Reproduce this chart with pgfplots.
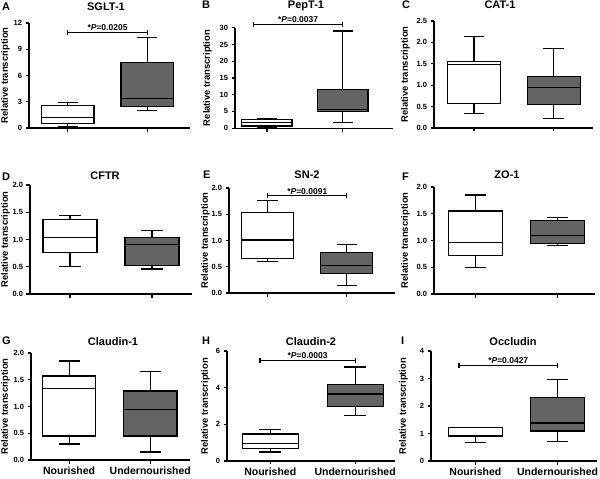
\documentclass[border=0pt]{standalone}
\usepackage{fontspec}
\setmainfont{Liberation Sans}
\usepackage{pgfplots}
\pgfplotsset{compat=1.18}
\usepgfplotslibrary{statistics}
\definecolor{boxgray}{RGB}{100,100,100}
\pgfplotsset{
 panel/.style={scale only axis, anchor=north west,
   axis x line*=bottom, axis y line*=left,
   axis line style={line width=1.2pt},
   every tick/.style={black, line width=1.2pt},
   tick align=outside, major tick length=3.5pt,
   xtick={0,1}, xticklabels={}, ymin=0, clip=false,
   scaled y ticks=false,
   boxplot/draw direction=y,
   ticklabel style={font=\bfseries\fontsize{7.5}{8}\selectfont},
   ylabel={Relative transcription},
   ylabel style={font=\bfseries\fontsize{9.4}{10}\selectfont, anchor=south, inner sep=0pt},
   /pgf/number format/assume math mode=true},
 dec/.style={y tick label style={/pgf/number format/.cd, fixed, fixed zerofill, precision=1, /tikz/.cd}},
 bottomrow/.style={xticklabels={Nourished,Undernourished},
   xticklabel style={font=\bfseries\fontsize{10.5}{12}\selectfont}},
 nour/.style={draw=black, fill=white, line width=1.2pt, solid},
 under/.style={draw=black, fill=boxgray, line width=1.2pt, solid},
}
\newcommand{\bx}[7]{\addplot[#1, boxplot prepared={draw position=#2, lower whisker=#3, lower quartile=#4, median=#5, upper quartile=#6, upper whisker=#7, box extend=0.66, whisker extend=0.26}] coordinates {};}
\newcommand{\sig}[4]{%
 \draw[line width=1.2pt] (axis cs:#1,#3) -- (axis cs:#2,#3);
 \draw[line width=1.2pt] ([yshift=-2.5pt]axis cs:#1,#3) -- ([yshift=2.5pt]axis cs:#1,#3);
 \draw[line width=1.2pt] ([yshift=-2.5pt]axis cs:#2,#3) -- ([yshift=2.5pt]axis cs:#2,#3);
 \node[above, inner sep=1.5pt, font=\bfseries\fontsize{8.5}{9}\selectfont] at (axis cs:{(#1+#2)/2},#3) {*\textit{P}=#4};}
\begin{document}
\begin{tikzpicture}
\path[use as bounding box] (0,0) rectangle (600pt,-479pt);
% Row 1
\begin{axis}[panel, ylabel style={at={(axis description cs:-0.118,0.5)}}, at={(29pt,-23pt)}, width=161pt, height=105pt, ymax=12, ytick={0,3,6,9,12}, xmin=-0.49, xmax=1.54]
\bx{nour}{0}{0.15}{0.5}{1.2}{2.6}{2.9}
\bx{under}{1}{2.0}{2.5}{3.4}{7.5}{10.3}
\sig{0}{1}{10.9}{0.0205}
\end{axis}
\begin{axis}[panel, ylabel style={at={(axis description cs:-0.146,0.5)}}, at={(235pt,-27.7pt)}, width=158pt, height=100.5pt, ymax=30, ytick={0,5,...,30}, xmin=-0.42, xmax=1.66]
\bx{nour}{0}{0.2}{0.65}{1.6}{2.5}{3.0}
\bx{under}{1}{1.6}{5.0}{5.7}{11.5}{29}
\sig{-0.18}{1}{31}{0.0037}
\end{axis}
\begin{axis}[panel, dec, ylabel style={at={(axis description cs:-0.151,0.5)}}, at={(434pt,-21pt)}, width=159pt, height=107pt, ymax=2.5, ytick={0,0.5,...,2.5}, xmin=-0.5, xmax=1.49]
\bx{nour}{0}{0.33}{0.57}{1.48}{1.56}{2.13}
\bx{under}{1}{0.23}{0.55}{0.95}{1.2}{1.85}
\end{axis}
% Row 2
\begin{axis}[panel, dec, ylabel style={at={(axis description cs:-0.123,0.5)}}, at={(30pt,-185pt)}, width=162pt, height=109pt, ymax=2, ytick={0,0.5,...,2}, xmin=-0.49, xmax=1.49]
\bx{nour}{0}{0.51}{0.76}{1.04}{1.37}{1.44}
\bx{under}{1}{0.46}{0.52}{0.91}{1.04}{1.16}
\end{axis}
\begin{axis}[panel, dec, ylabel style={at={(axis description cs:-0.114,0.5)}}, at={(229pt,-188pt)}, width=166pt, height=105pt, ymax=2, ytick={0,0.5,...,2}, xmin=-0.49, xmax=1.61]
\bx{nour}{0}{0.6}{0.65}{1.01}{1.54}{1.76}
\bx{under}{1}{0.14}{0.37}{0.52}{0.77}{0.93}
\sig{0}{1}{1.85}{0.0091}
\end{axis}
\begin{axis}[panel, dec, ylabel style={at={(axis description cs:-0.149,0.5)}}, at={(434pt,-187pt)}, width=161pt, height=107pt, ymax=2, ytick={0,0.5,...,2}, xmin=-0.51, xmax=1.46]
\bx{nour}{0}{0.5}{0.72}{0.96}{1.55}{1.85}
\bx{under}{1}{0.9}{0.94}{1.1}{1.38}{1.43}
\end{axis}
% Row 3
\begin{axis}[panel, dec, bottomrow, ylabel style={at={(axis description cs:-0.132,0.5)}}, at={(31pt,-353pt)}, width=159pt, height=107pt, ymax=2, ytick={0,0.5,...,2}, xmin=-0.47, xmax=1.49]
\bx{nour}{0}{0.3}{0.45}{1.34}{1.57}{1.85}
\bx{under}{1}{0.15}{0.45}{0.95}{1.29}{1.65}
\end{axis}
\begin{axis}[panel, bottomrow, ylabel style={at={(axis description cs:-0.101,0.5)}}, at={(227pt,-351pt)}, width=168pt, height=110pt, ymax=6, ytick={0,2,4,6}, xmin=-0.51, xmax=1.47]
\bx{nour}{0}{0.49}{0.67}{0.95}{1.47}{1.71}
\bx{under}{1}{2.47}{2.96}{3.65}{4.18}{5.13}
\sig{-0.12}{1}{5.5}{0.0003}
\end{axis}
\begin{axis}[panel, bottomrow, ylabel style={at={(axis description cs:-0.139,0.5)}}, at={(431pt,-351pt)}, width=166pt, height=110pt, ymax=4, ytick={0,1,2,3,4}, xmin=-0.54, xmax=1.48]
\bx{nour}{0}{0.68}{0.9}{0.93}{1.22}{1.22}
\bx{under}{1}{0.72}{1.09}{1.38}{2.32}{2.96}
\sig{-0.2}{1}{3.47}{0.0427}
\end{axis}
% Titles
\begin{scope}[every node/.style={anchor=base, font=\bfseries\fontsize{11}{12}\selectfont, inner sep=0pt}]
\node at (106pt,-10pt) {SGLT-1};
\node at (306pt,-9pt) {PepT-1};
\node at (500pt,-9pt) {CAT-1};
\node at (105pt,-179pt) {CFTR};
\node at (307pt,-178pt) {SN-2};
\node at (507pt,-178pt) {ZO-1};
\node at (113pt,-345pt) {Claudin-1};
\node at (311pt,-345pt) {Claudin-2};
\node at (513pt,-345pt) {Occludin};
\end{scope}
% Panel letters
\begin{scope}[every node/.style={anchor=base west, font=\bfseries\fontsize{11}{12}\selectfont, inner sep=0pt}]
\node at (2pt,-10pt) {A};
\node at (202pt,-9pt) {B};
\node at (402pt,-9pt) {C};
\node at (2pt,-180pt) {D};
\node at (203pt,-178pt) {E};
\node at (402pt,-180pt) {F};
\node at (2pt,-344pt) {G};
\node at (202pt,-344pt) {H};
\node at (401pt,-344pt) {I};
\end{scope}
\end{tikzpicture}
\end{document}
